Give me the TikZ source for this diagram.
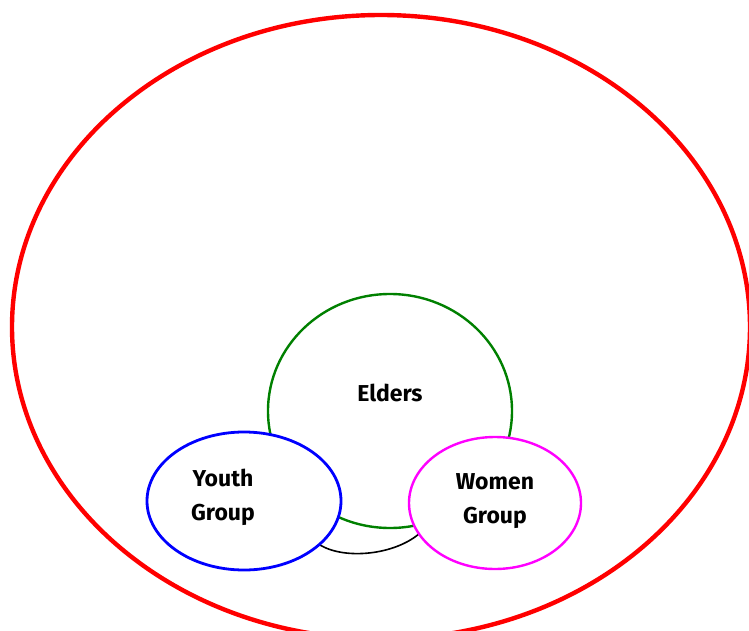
\documentclass[tikz,border=0pt]{standalone}
\usepackage{fontspec}
\newfontfamily\groupfont{Fira Sans}
\usepackage{xcolor}
\definecolor{grpRed}{RGB}{255, 0, 0}
\definecolor{grpGreen}{RGB}{0, 128, 0}
\definecolor{grpBlue}{RGB}{0, 0, 255}
\definecolor{grpMagenta}{RGB}{255, 0, 255}
\usepackage{tikz}
\usetikzlibrary{
    shapes.geometric,
    positioning
}

\begin{document}
\begin{tikzpicture}[
    x=1pt, y=-1pt,
    ringShape/.style={
        ellipse, inner sep=0pt, fill=white
    },
    groupLabel/.style={
        font=\groupfont\bfseries\fontsize{23}{34}\selectfont,
        text=black, align=center, inner sep=0pt
    }
]

    \clip (0, 0) rectangle (749, 631);

    % Community boundary
    \node[ringShape, draw=grpRed, line width=4.4pt, fill=none,
          minimum width=738pt, minimum height=624pt] (community) at (381, 327) {};

    % Elders circle
    \node[ringShape, draw=grpGreen, line width=2.4pt,
          minimum width=244pt, minimum height=234pt] (elders) at (390, 411) {};

    % Link below the two groups
    \coordinate (linkStart) at (320, 545);
    \coordinate (linkEnd) at (420, 533);
    \draw[black, line width=1.6pt] (linkStart) .. controls +(25, 15) and +(-25, 22) .. (linkEnd);

    % Youth and women groups
    \node[ringShape, draw=grpBlue, line width=2.8pt,
          minimum width=194pt, minimum height=138pt] (youth) at (244, 501) {};
    \node[ringShape, draw=grpMagenta, line width=2.4pt,
          minimum width=172pt, minimum height=132pt] (women) at (495, 503) {};

    % Labels
    \node[groupLabel] (eldersText) at (390, 393) {Elders};
    \node[groupLabel] (youthText) at (223, 497) {Youth\\Group};
    \node[groupLabel] (womenText) at (495, 501) {Women\\Group};

\end{tikzpicture}
\end{document}
